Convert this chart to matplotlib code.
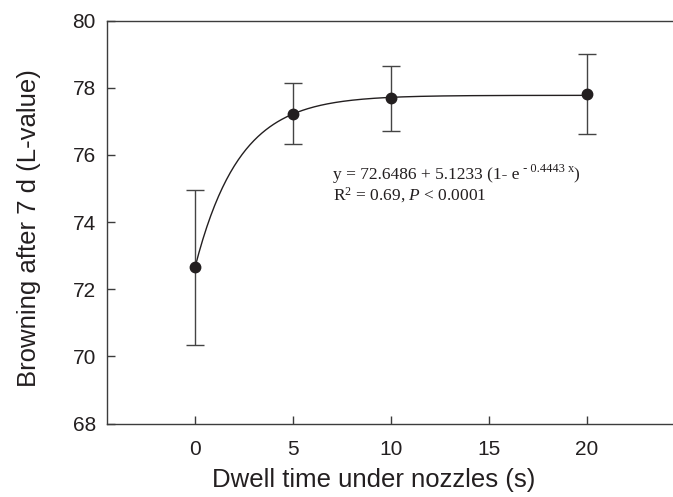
import numpy as np
import matplotlib
matplotlib.use('Agg')
import matplotlib.pyplot as plt

# measured means and error bars
dwell   = [0, 5, 10, 20]
L_mean  = [72.65, 77.23, 77.68, 77.82]
L_err   = [2.30, 0.90, 0.98, 1.19]

# fitted model y = a + b (1 - exp(-c x))
fit_a, fit_b, fit_c = 72.6486, 5.1233, 0.4443

xticks = [0, 5, 10, 15, 20]
yticks = [68, 70, 72, 74, 76, 78, 80]

ink   = '#231f20'
spine = '#3c3c3c'
W, H  = 673, 497

plt.rcParams['mathtext.fontset'] = 'custom'
plt.rcParams['mathtext.rm'] = 'Liberation Serif'
plt.rcParams['mathtext.it'] = 'Liberation Serif:italic'

fig = plt.figure(figsize=(W/100, H/100), dpi=100)
# axes runs off the right edge of the figure (no right spine in the original)
ax = fig.add_axes([107/W, 1 - 423.5/H, 1 - 107/W, (423.5 - 20.5)/H])

xs = np.linspace(0, 20, 300)
ax.plot(xs, fit_a + fit_b*(1 - np.exp(-fit_c*xs)), color=ink, lw=1.0)
ax.errorbar(dwell, L_mean, yerr=L_err, fmt='none', ecolor='#444444',
            elinewidth=1.0, capsize=6.5, capthick=1.0)
ax.plot(dwell, L_mean, 'o', color=ink, ms=7.5, zorder=5)

ax.set_xlim(-4.49, 24.39)
ax.set_ylim(68, 80)
ax.set_xticks(xticks)
ax.set_yticks(yticks)

for s in ['left', 'bottom', 'top']:
    ax.spines[s].set_color(spine)
    ax.spines[s].set_linewidth(1.0)
ax.spines['right'].set_visible(False)

ax.tick_params(direction='in', length=6, width=1, color=spine,
               labelsize=15, labelcolor=ink)
ax.tick_params(axis='x', pad=12)
ax.tick_params(axis='y', pad=8)
for lab in ax.get_xticklabels() + ax.get_yticklabels():
    lab.set_family('Liberation Sans')

# axis titles placed where they sit in the original
fig.text(373.5/W, 1 - 479.5/H, 'Dwell time under nozzles (s)', fontsize=18.5,
         color=ink, family='Liberation Sans', ha='center', va='center')
fig.text(29/W, 1 - 228.5/H, 'Browning after 7 d (L-value)', fontsize=18.5,
         color=ink, family='Liberation Sans', ha='center', va='center',
         rotation=90)

# fit equation
t1 = fig.text(333/W, 1 - 179/H, 'y = 72.6486 + 5.1233 (1- e', fontsize=12.5,
              family='Liberation Serif', color=ink, va='baseline')
t2 = ax.annotate(' - 0.4443 x', xy=(1, H - 172), xycoords=(t1, 'figure pixels'),
                 fontsize=9, family='Liberation Serif', color=ink,
                 va='baseline', ha='left')
ax.annotate(')', xy=(1, H - 179), xycoords=(t2, 'figure pixels'),
            fontsize=12.5, family='Liberation Serif', color=ink,
            va='baseline', ha='left')
fig.text(333/W, 1 - 200/H, r'R$^{2}$ = 0.69, $P$ < 0.0001', fontsize=12.5,
         family='Liberation Serif', color=ink, va='baseline')

fig.savefig('out.png', dpi=100)
